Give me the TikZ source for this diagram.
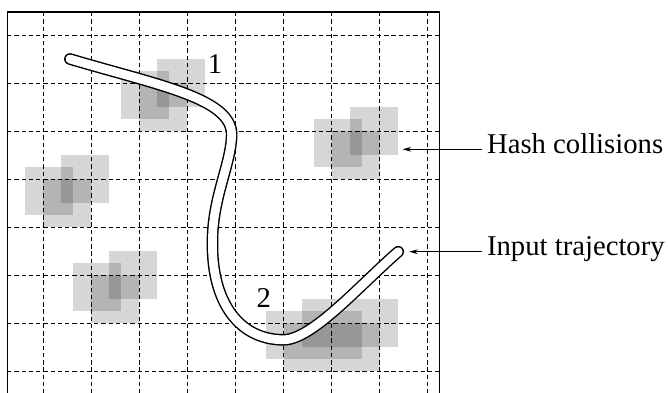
\documentclass[tikz,border=0pt]{standalone}
\usepackage{fontspec}
\setmainfont{Liberation Serif}
\usetikzlibrary{arrows.meta}
\tikzset{
    gridline/.style={line width=0.45pt, dash pattern=on 2.6pt off 1.7pt},
    cell/.style={fill=black, fill opacity=0.16},
    tube/.style={line width=0.85pt, double=white, double distance=5.2pt, line cap=round},
    label/.style={font=\fontsize{17}{20}\selectfont, inner xsep=3pt},
    pointer/.style={line width=0.5pt, -{Stealth[length=5pt,width=2.8pt,inset=1.6pt]}}}

\begin{document}
\begin{tikzpicture}

        \useasboundingbox (-0.906,-7.4375) rectangle (13.01,0.729);
        \clip (-0.906,-7.4375) rectangle (13.01,0.729);

        \foreach \x/\y/\w in {2/-1/1, 6/-2/1, 0/-3/1, 1/-5/1, 5/-6/2} {
            \fill[cell] (\x,\y) rectangle ++(\w,-1);
            \fill[cell] (\x+0.375,\y+0.5) rectangle ++(\w,-1);
            \fill[cell] (\x-0.375,\y+0.25) rectangle ++(\w,-1);
        }

        \foreach \x in {0,...,8}
            \draw[gridline] (\x,0.479) -- (\x,-7.6);
        \foreach \y in {0,...,7}
            \draw[gridline] (-0.76,-\y) -- (8.24,-\y);

        \draw[line width=0.6pt] (-0.76,-7.8) -- (-0.76,0.479) -- (8.24,0.479) -- (8.24,-7.8);

        \draw[tube] (0.55,-0.5) .. controls (2.4,-1.05) and (3.95,-1.32) .. (3.92,-2.1)
            .. controls (3.9,-2.7) and (3.52,-3.4) .. (3.52,-4.3)
            .. controls (3.5,-5.6) and (4.1,-6.35) .. (5.0,-6.35)
            .. controls (5.6,-6.35) and (6.6,-5.2) .. (7.39,-4.515);

        \node[label, inner sep=0pt] (one) at (3.573,-0.615) {1};
        \node[label, inner sep=0pt] (two) at (4.588,-5.469) {2};

        \node[label, anchor=mid west] (hashlbl) at (9.129,-2.381) {Hash collisions};
        \node[label, anchor=mid west] (inputlbl) at (9.129,-4.515) {Input trajectory};
        \coordinate (hashtip) at (7.482,-2.381);
        \coordinate (inputtip) at (7.62,-4.515);

        \draw[pointer] (hashlbl.mid west) -- (hashtip);
        \draw[pointer] (inputlbl.mid west) -- (inputtip);

    \end{tikzpicture}
\end{document}
